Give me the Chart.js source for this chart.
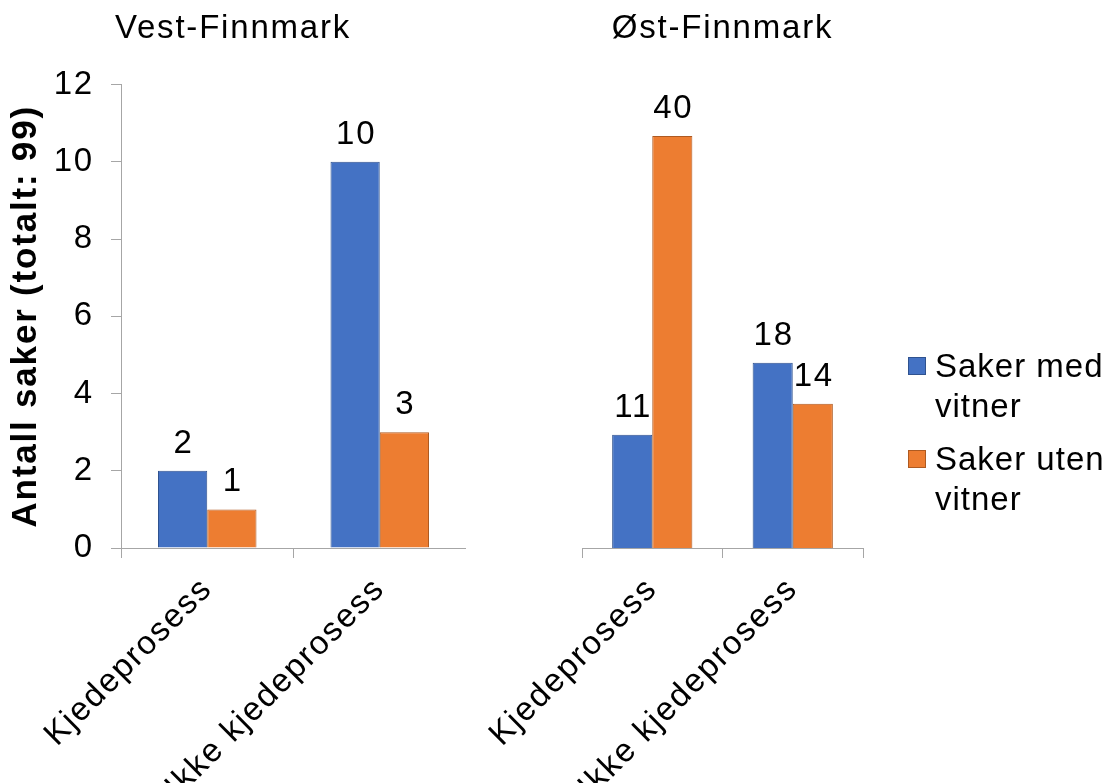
<!DOCTYPE html>
<html lang="no">
<head>
<meta charset="utf-8">
<title>Saker med og uten vitner</title>
<script src="https://cdn.jsdelivr.net/npm/chart.js@4.4.1/dist/chart.umd.min.js"></script>
<style>
  html, body { margin: 0; padding: 0; background: #fff; overflow: hidden; }
  body { width: 1106px; height: 783px; position: relative; }
  canvas { position: absolute; top: 0; }
  #vest { left: 0; }
  #ost { left: 400px; }
  #legende {
    position: absolute; left: 908px; top: 346px;
    font: 33px "Liberation Sans", Arial, sans-serif;
    letter-spacing: 1px; line-height: 40px; color: #000;
  }
  .post { position: relative; padding-left: 27px; margin-bottom: 13px; }
  .boks { position: absolute; left: 0; top: 11px; width: 18px; height: 18px; box-sizing: border-box; border: 1px solid; }
</style>
</head>
<body>
<canvas id="vest" width="466" height="783"></canvas>
<canvas id="ost" width="825" height="783"></canvas>
<div id="legende"></div>

<script>
// ===== Data =====
const kategorier = ['Kjedeprosess', 'Ikke kjedeprosess'];
const serier = [['Saker med', 'vitner'], ['Saker uten', 'vitner']];

const vestMed = [2, 10];
const vestUten = [1, 3];
const ostMed = [11, 18];
const ostUten = [40, 14];

const vestMaks = 12;
const ostMaks = 45;

const farger = ['#4472c4', '#ed7d31'];
const kanter = ['#2f528f', '#ae5a21'];

const skrift = '"Liberation Sans", Arial, sans-serif';
const grå = '#a6a6a6';

// litt ekstra bokstavavstand, som i originalen
const avstand = {
  id: 'avstand',
  beforeUpdate(chart) { chart.ctx.letterSpacing = '1.8px'; },
  beforeDraw(chart) { chart.ctx.letterSpacing = '1.8px'; }
};

// tallene over søylene
const etiketter = {
  id: 'etiketter',
  afterDatasetsDraw(chart) {
    const ctx = chart.ctx;
    ctx.save();
    ctx.font = '33px ' + skrift;
    ctx.fillStyle = '#000';
    ctx.textAlign = 'center';
    ctx.textBaseline = 'alphabetic';
    chart.data.datasets.forEach((ds, i) => {
      chart.getDatasetMeta(i).data.forEach((bar, j) => {
        ctx.fillText(ds.data[j], bar.x + 1, bar.y - 18);
      });
    });
    ctx.restore();
  }
};

function datasett(med, uten) {
  return [med, uten].map((verdier, i) => ({
    label: serier[i].join(' '),
    data: verdier,
    backgroundColor: farger[i],
    borderColor: kanter[i],
    borderWidth: 1,
    borderSkipped: 'bottom',
    categoryPercentage: 0.571,
    barPercentage: 1
  }));
}

function xAkse() {
  return {
    grid: { drawOnChartArea: false, tickLength: 10, color: grå },
    border: { color: grå },
    ticks: {
      color: '#000',
      font: { family: skrift, size: 33 },
      autoSkip: false,
      minRotation: 45,
      maxRotation: 45,
      padding: 12
    },
    afterFit(scale) {
      scale.height = 235;
      scale.paddingLeft = 0;
      scale.paddingRight = 0;
    }
  };
}

function tittel(tekst) {
  return {
    display: true,
    text: tekst,
    color: '#000',
    font: { family: skrift, size: 33, weight: 'normal' },
    padding: { top: 9, bottom: 36 }
  };
}

// ===== Vest-Finnmark =====
new Chart(document.getElementById('vest'), {
  type: 'bar',
  data: { labels: kategorier, datasets: datasett(vestMed, vestUten) },
  plugins: [avstand, etiketter],
  options: {
    responsive: false,
    animation: false,
    layout: { padding: 0 },
    plugins: {
      legend: { display: false },
      tooltip: { enabled: false },
      title: tittel('Vest-Finnmark')
    },
    scales: {
      x: xAkse(),
      y: {
        min: 0,
        max: vestMaks,
        grid: { drawOnChartArea: false, tickLength: 10, color: grå },
        border: { color: grå },
        ticks: {
          stepSize: 2,
          color: '#000',
          font: { family: skrift, size: 33 },
          padding: 17
        },
        title: {
          display: true,
          text: 'Antall saker (totalt: 99)',
          color: '#000',
          font: { family: skrift, size: 35, weight: 'bold' },
          padding: { top: 5, bottom: 0 }
        },
        afterFit(scale) { scale.width = 121; }
      }
    }
  }
});

// ===== Øst-Finnmark =====
// lerretet går forbi høyre kant, slik at tittelen blir sentrert som i originalen
new Chart(document.getElementById('ost'), {
  type: 'bar',
  data: { labels: kategorier, datasets: datasett(ostMed, ostUten) },
  plugins: [avstand, etiketter],
  options: {
    responsive: false,
    animation: false,
    layout: { padding: { left: 182, right: 362 } },
    plugins: {
      legend: { display: false },
      tooltip: { enabled: false },
      title: tittel('Øst-Finnmark')
    },
    scales: {
      x: xAkse(),
      y: { display: false, min: 0, max: ostMaks }
    }
  }
});

// ===== Forklaring =====
const legende = document.getElementById('legende');
serier.forEach((linjer, i) => {
  const post = document.createElement('div');
  post.className = 'post';
  post.innerHTML = '<span class="boks" style="background:' + farger[i] +
    ';border-color:' + kanter[i] + '"></span>' + linjer.join('<br>');
  legende.appendChild(post);
});
</script>
</body>
</html>
